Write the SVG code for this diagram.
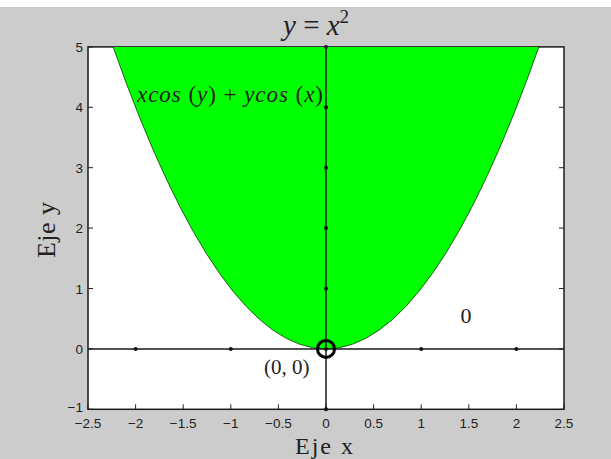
<svg xmlns="http://www.w3.org/2000/svg" width="611" height="459" viewBox="0 0 611 459">
<style>
.tick{stroke:#222;stroke-width:1;fill:none}
.tl{font-family:"Liberation Sans",Arial,sans-serif;font-size:13.5px;fill:#222}
.m{font-family:"Liberation Serif","DejaVu Serif",serif;fill:#222}
.it{font-style:italic}
</style>
<rect x="0" y="0" width="611" height="459" fill="#fff"/>
<rect x="0" y="7" width="611" height="452" fill="#cccccc"/>
<g id="axes">
<rect x="88" y="46.9" width="476" height="362.4" fill="#fff" stroke="#1a1a1a" stroke-width="1.5"/>
</g>
<g id="region">
<path d="M113.1,46.9 Q326,650.9 538.9,46.9 Z" fill="#00ff00" stroke="none"/>
<path d="M113.1,46.9 Q326,650.9 538.9,46.9" fill="none" stroke="#0a3a0a" stroke-width="0.8"/>
</g>
<g id="ticks" class="tick">
<path d="M88,409.3v-5M135.6,409.3v-5M183.2,409.3v-5M230.8,409.3v-5M278.4,409.3v-5M326,409.3v-5M373.6,409.3v-5M421.2,409.3v-5M468.8,409.3v-5M516.4,409.3v-5M564,409.3v-5"/>
<path d="M88,409.3h5M88,348.9h5M88,288.5h5M88,228.1h5M88,167.7h5M88,107.3h5M88,46.9h5"/>
<path d="M564,409.3h-5M564,348.9h-5M564,288.5h-5M564,228.1h-5M564,167.7h-5M564,107.3h-5"/>
</g>
<g id="connectors">
<line x1="88" y1="348.9" x2="564" y2="348.9" stroke="#1a1a1a" stroke-width="1.5"/>
<line x1="326" y1="46.9" x2="326" y2="409.3" stroke="#1a1a1a" stroke-width="1.5"/>
<g fill="#111">
<circle cx="135.6" cy="348.9" r="2"/><circle cx="230.8" cy="348.9" r="2"/><circle cx="421.2" cy="348.9" r="2"/><circle cx="516.4" cy="348.9" r="2"/>
<circle cx="326" cy="46.9" r="2"/><circle cx="326" cy="107.3" r="2"/><circle cx="326" cy="167.7" r="2"/><circle cx="326" cy="228.1" r="2"/><circle cx="326" cy="288.5" r="2"/><circle cx="326" cy="348.9" r="2"/><circle cx="326" cy="409.3" r="2"/>
</g>
</g>
<g id="origin">
<circle cx="326" cy="348.9" r="8.5" fill="none" stroke="#000" stroke-width="3"/>
</g>
<g id="xlabels" class="tl" text-anchor="middle">
<text x="88" y="428">−2.5</text><text x="135.6" y="428">−2</text><text x="183.2" y="428">−1.5</text><text x="230.8" y="428">−1</text><text x="278.4" y="428">−0.5</text><text x="326" y="428">0</text><text x="373.6" y="428">0.5</text><text x="421.2" y="428">1</text><text x="468.8" y="428">1.5</text><text x="516.4" y="428">2</text><text x="564" y="428">2.5</text>
</g>
<g id="ylabels" class="tl" text-anchor="end">
<text x="83" y="411.5">−1</text><text x="83" y="354">0</text><text x="83" y="293.5">1</text><text x="83" y="233">2</text><text x="83" y="172.5">3</text><text x="83" y="112">4</text><text x="83" y="52">5</text>
</g>
<g id="title"><text class="m" x="283" y="35" font-size="29"><tspan class="it">y</tspan> = <tspan class="it">x</tspan><tspan font-size="19" dy="-12">2</tspan></text></g>
<g id="label-region"><text class="m" x="137" y="102" font-size="23" textLength="186"><tspan class="it">xcos</tspan> (<tspan class="it">y</tspan>) + <tspan class="it">ycos</tspan> (<tspan class="it">x</tspan>)</text></g>
<g id="label-zero"><text class="m" x="466" y="323" font-size="22" text-anchor="middle">0</text></g>
<g id="label-origin"><text class="m" x="264" y="374" font-size="21">(0, 0)</text></g>
<g id="xlabel"><text class="m" x="295" y="454" font-size="24" textLength="58">Eje x</text></g>
<g id="ylabel"><text class="m" transform="translate(55,258) rotate(-90)" font-size="26" textLength="56">Eje y</text></g>
</svg>
